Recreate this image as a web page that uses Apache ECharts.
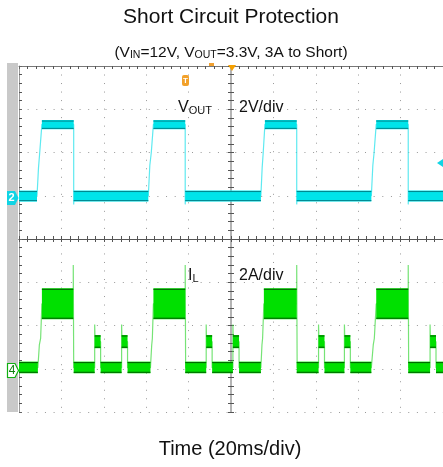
<!DOCTYPE html>
<html><head><meta charset="utf-8">
<script src="https://cdn.jsdelivr.net/npm/echarts@6/dist/echarts.min.js"></script>
<style>html,body{margin:0;padding:0;background:#fff}#c{width:443px;height:467px}</style>
</head><body><div id="c"></div>
<script>
const FONT = "'Liberation Sans', Arial, Helvetica, sans-serif";
// time in ms relative to trigger (screen centre), 20 ms/div
const timeTicks = [-100, -80, -60, -40, -20, 0, 20, 40, 60, 80, 100];
// screen divisions (vertical), used only for the graticule
const divTicks = [-4, -3, -2, -1, 0, 1, 2, 3, 4];
// channel scales: VOUT 2 V/div, IL 2 A/div
const voutRange = [-10, 6];
const ilRange = [-2, 14];

// VOUT trace (V) : [time ms, volts]
const voutTrace = [
  [-100, 0], [-91.5, 0], [-90.8, 1.3], [-90.3, 1.9], [-89.2, 3.3], [-74.2, 3.3], [-74.2, -0.4], [-74.0, 0],
  [-39.0, 0], [-38.3, 1.4], [-37.6, 2.0], [-36.6, 3.3], [-21.6, 3.3], [-21.6, -0.4], [-21.4, 0],
  [14.1, 0], [14.7, 1.3], [15.2, 2.0], [16.0, 3.3], [31.0, 3.3], [31.0, -0.4], [31.2, 0],
  [66.2, 0], [66.9, 1.4], [67.5, 2.0], [68.5, 3.3], [83.6, 3.3], [83.6, -0.4], [83.8, 0], [100, 0]
];
// VOUT noise envelope: [start ms, end ms, min V, max V]
const voutBands = [
  [-100, -91.5, -0.27, 0.24], [-89.2, -74.2, 3.07, 3.5],
  [-74.2, -39.0, -0.27, 0.24], [-36.6, -21.6, 3.07, 3.5],
  [-21.6, 14.1, -0.27, 0.24], [16.0, 31.0, 3.07, 3.5],
  [31.0, 66.2, -0.27, 0.24], [68.5, 83.6, 3.07, 3.5],
  [83.6, 100, -0.27, 0.24]
];
// IL trace (A) : [time ms, amps]
const ilTrace = [
  [-100, 0.05], [-91.1, 0.05], [-90.4, 1.1], [-89.8, 1.4], [-89.2, 3.0],
  [-74.4, 3.0], [-74.4, 4.8], [-74.2, 0.05],
  [-64.3, 0.05], [-64.3, 2.05], [-64.1, 1.25], [-61.5, 1.25], [-61.5, 0.05],
  [-51.6, 0.05], [-51.6, 2.05], [-51.4, 1.25], [-48.8, 1.25], [-48.8, 0.05],
  [-38.0, 0.05], [-37.4, 1.1], [-37.1, 1.4], [-36.6, 3.0],
  [-21.6, 3.0], [-21.6, 4.8], [-21.4, 0.05],
  [-11.7, 0.05], [-11.7, 2.05], [-11.5, 1.25], [-8.9, 1.25], [-8.9, 0.05],
  [0.9, 0.05], [0.9, 2.05], [1.1, 1.25], [3.8, 1.25], [3.8, 0.05],
  [14.1, 0.05], [14.6, 1.1], [14.9, 1.4], [15.5, 3.0],
  [31.0, 3.0], [31.0, 4.8], [31.2, 0.05],
  [41.3, 0.05], [41.3, 2.05], [41.5, 1.25], [44.1, 1.25], [44.1, 0.05],
  [53.5, 0.05], [53.5, 2.05], [53.7, 1.25], [56.3, 1.25], [56.3, 0.05],
  [66.2, 0.05], [67.1, 1.1], [67.6, 1.4], [68.5, 3.0],
  [83.6, 3.0], [83.6, 4.8], [83.8, 0.05],
  [93.9, 0.05], [93.9, 2.05], [94.1, 1.25], [96.7, 1.25], [96.7, 0.05],
  [100, 0.05]
];
// IL ripple envelope: [start ms, end ms, min A, max A]
const ilBands = [
  [-100, -91.1, -0.21, 0.33], [-89.2, -74.4, 2.29, 3.72],
  [-74.2, -64.3, -0.21, 0.33], [-64.3, -61.5, 0.95, 1.56], [-61.5, -51.6, -0.21, 0.33],
  [-51.6, -48.8, 0.95, 1.56], [-48.8, -38.0, -0.21, 0.33], [-36.6, -21.6, 2.29, 3.72],
  [-21.6, -11.7, -0.21, 0.33], [-11.7, -8.9, 0.95, 1.56], [-8.9, 0.9, -0.21, 0.33],
  [0.9, 3.8, 0.95, 1.56], [3.8, 14.1, -0.21, 0.33], [15.5, 31.0, 2.29, 3.72],
  [31.0, 41.3, -0.21, 0.33], [41.3, 44.1, 0.95, 1.56], [44.1, 53.5, -0.21, 0.33],
  [53.5, 56.3, 0.95, 1.56], [56.3, 66.2, -0.21, 0.33], [68.5, 83.6, 2.29, 3.72],
  [83.6, 93.9, -0.21, 0.33], [93.9, 96.7, 0.95, 1.56], [96.7, 100, -0.21, 0.33]
];

const chart = echarts.init(document.getElementById('c'), null, {renderer: 'canvas'});

function bandRenderer(fill, edge) {
  return function (params, api) {
    const a = api.coord([api.value(0), api.value(3)]);
    const b = api.coord([api.value(1), api.value(2)]);
    const x = a[0], y = a[1], w = b[0] - a[0], h = b[1] - a[1];
    return {
      type: 'group',
      children: [
        {type: 'rect', shape: {x: x, y: y, width: w, height: h}, style: {fill: fill}},
        {type: 'line', shape: {x1: x, y1: y + 1, x2: x + w, y2: y + 1}, style: {stroke: edge, lineWidth: 1}},
        {type: 'line', shape: {x1: x, y1: y + h - 1, x2: x + w, y2: y + h - 1}, style: {stroke: edge, lineWidth: 1}}
      ]
    };
  };
}

const tMin = timeTicks[0], tMax = timeTicks[timeTicks.length - 1], tInt = timeTicks[1] - timeTicks[0];
const dMin = divTicks[0], dMax = divTicks[divTicks.length - 1];

const dotX = {color: '#999', width: 1, type: [1, 7.52]};
const dotY = {color: '#999', width: 1, type: [1, 7.65]};

function timeAxis(extra) {
  return Object.assign({
    type: 'value', min: tMin, max: tMax, interval: tInt,
    axisLabel: {show: false}, splitLine: {show: false},
    axisTick: {show: true, length: 3, lineStyle: {color: '#555'}},
    minorTick: {show: true, splitNumber: 5, length: 3, lineStyle: {color: '#555'}}
  }, extra);
}
function divAxis(extra) {
  return Object.assign({
    type: 'value', min: dMin, max: dMax, interval: 1,
    axisLabel: {show: false}, splitLine: {show: false},
    axisTick: {show: true, length: 3, lineStyle: {color: '#555'}},
    minorTick: {show: true, splitNumber: 5, length: 3, lineStyle: {color: '#555'}}
  }, extra);
}

const option = {
  animation: false,
  backgroundColor: '#fff',
  grid: {left: 19, top: 66, width: 426, height: 346, show: false},
  xAxis: [
    timeAxis({position: 'bottom', axisLine: {onZero: true, onZeroAxisIndex: 0, lineStyle: {color: '#555', width: 1}},
      splitLine: {show: true, lineStyle: dotX}}),
    timeAxis({position: 'top', axisLine: {onZero: true, onZeroAxisIndex: 0, lineStyle: {color: '#555', width: 1}}}),
    timeAxis({position: 'top', axisLine: {onZero: false, lineStyle: {color: '#777', width: 1}}, axisTick: {show: true, inside: true, length: 3, lineStyle: {color: '#666'}}})
  ],
  yAxis: [
    divAxis({position: 'left', axisLine: {onZero: true, onZeroAxisIndex: 0, lineStyle: {color: '#b4b4b4', width: 2}},
      splitLine: {show: true, lineStyle: dotY}}),
    divAxis({position: 'right', axisLine: {onZero: true, onZeroAxisIndex: 0, lineStyle: {color: '#b4b4b4', width: 2}}}),
    divAxis({position: 'left', axisLine: {onZero: false, lineStyle: {color: '#999', width: 1}}, axisTick: {show: true, inside: true, length: 3, lineStyle: {color: '#666'}}}),
    {type: 'value', min: voutRange[0], max: voutRange[1], show: false},
    {type: 'value', min: ilRange[0], max: ilRange[1], show: false}
  ],
  series: [
    {type: 'line', name: 'VOUT', xAxisIndex: 0, yAxisIndex: 3, data: voutTrace, showSymbol: false, z: 2,
      lineStyle: {color: 'rgba(40,225,235,0.75)', width: 1.2}},
    {type: 'custom', name: 'VOUT band', xAxisIndex: 0, yAxisIndex: 3, data: voutBands, z: 3, clip: true,
      encode: {x: [0, 1], y: [2, 3]}, renderItem: bandRenderer('#00e4ea', '#00858c')},
    {type: 'line', name: 'IL', xAxisIndex: 0, yAxisIndex: 4, data: ilTrace, showSymbol: false, z: 2,
      lineStyle: {color: 'rgba(60,215,60,0.7)', width: 1.2}},
    {type: 'custom', name: 'IL band', xAxisIndex: 0, yAxisIndex: 4, data: ilBands, z: 3, clip: true,
      encode: {x: [0, 1], y: [2, 3]}, renderItem: bandRenderer('#00e000', '#005c00')}
  ],
  graphic: [
    {type: 'rect', z: 1, shape: {x: 7, y: 63, width: 11, height: 349}, style: {fill: '#c9c9c9'}},
    {type: 'text', z: 10, style: {text: 'Short Circuit Protection', x: 231, y: 17, textAlign: 'center', textVerticalAlign: 'middle',
      font: '21px ' + FONT, fill: '#111'}},
    {type: 'text', z: 10, style: {
      text: '{n|(V}{s|IN}{n|=12V, V}{s|OUT}{n|=3.3V, 3A to Short)}', x: 231, y: 53, textAlign: 'center', textVerticalAlign: 'middle',
      rich: {n: {fontSize: 15.5, fontFamily: FONT, fill: '#111', verticalAlign: 'bottom'},
             s: {fontSize: 10.5, fontFamily: FONT, fill: '#111', verticalAlign: 'bottom'}}}},
    {type: 'text', z: 10, style: {text: 'Time (20ms/div)', x: 230, y: 449, textAlign: 'center', textVerticalAlign: 'middle',
      font: '20px ' + FONT, fill: '#111'}},
    {type: 'text', z: 10, style: {text: '{n|V}{s|OUT}', x: 212, y: 108, textAlign: 'right', textVerticalAlign: 'middle',
      rich: {n: {fontSize: 16, fontFamily: FONT, fill: '#111', verticalAlign: 'bottom'},
             s: {fontSize: 11, fontFamily: FONT, fill: '#111', verticalAlign: 'bottom'}}}},
    {type: 'text', z: 10, style: {text: '2V/div', x: 239, y: 108, textAlign: 'left', textVerticalAlign: 'middle',
      font: '16px ' + FONT, fill: '#111'}},
    {type: 'text', z: 10, style: {text: '{n|I}{s|L}', x: 188, y: 276, textAlign: 'left', textVerticalAlign: 'middle',
      rich: {n: {fontSize: 16, fontFamily: FONT, fill: '#111', verticalAlign: 'bottom'},
             s: {fontSize: 11, fontFamily: FONT, fill: '#111', verticalAlign: 'bottom'}}}},
    {type: 'text', z: 10, style: {text: '2A/div', x: 239, y: 276, textAlign: 'left', textVerticalAlign: 'middle',
      font: '16px ' + FONT, fill: '#111'}},
    // channel markers
    {type: 'polygon', z: 10, shape: {points: [[7, 191], [15, 191], [18.5, 198], [15, 205], [7, 205]]}, style: {fill: '#10d4e4'}},
    {type: 'text', z: 11, style: {text: '2', x: 11.5, y: 198, textAlign: 'center', textVerticalAlign: 'middle', font: 'bold 11px ' + FONT, fill: '#fff'}},
    {type: 'polygon', z: 10, shape: {points: [[7.5, 363.5], [15, 363.5], [18.5, 370.5], [15, 377.5], [7.5, 377.5]]}, style: {fill: '#fff', stroke: '#10b010', lineWidth: 1.2}},
    {type: 'text', z: 11, style: {text: '4', x: 12, y: 370.5, textAlign: 'center', textVerticalAlign: 'middle', font: '12px ' + FONT, fill: '#108010'}},
    // trigger markers
    {type: 'rect', z: 10, shape: {x: 182, y: 75, width: 7, height: 11, r: 2}, style: {fill: '#f2a12a'}},
    {type: 'text', z: 11, style: {text: 'T', x: 185.5, y: 80.5, textAlign: 'center', textVerticalAlign: 'middle', font: 'bold 8px ' + FONT, fill: '#fff'}},
    {type: 'polygon', z: 10, shape: {points: [[228, 65], [236, 65], [232, 71]]}, style: {fill: '#f5a000'}},
    {type: 'rect', z: 10, shape: {x: 209, y: 63, width: 5, height: 3}, style: {fill: '#f0a030'}},
    {type: 'polygon', z: 10, shape: {points: [[437, 163], [443, 159], [443, 167]]}, style: {fill: '#10d4e4'}}
  ]
};
chart.setOption(option);
</script>
</body></html>
